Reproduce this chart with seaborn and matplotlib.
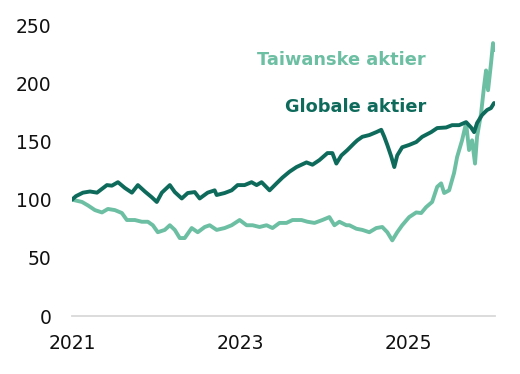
import matplotlib
matplotlib.use("Agg")
import matplotlib.pyplot as plt
import matplotlib.dates as mdates
import numpy as np
import pandas as pd
import seaborn as sns

DARK = "#0e6b5c"
LIGHT = "#6dbfa3"

# decimal years
glob_t = [2021.000, 2021.047, 2021.130, 2021.214, 2021.297, 2021.415, 2021.474, 2021.546,
          2021.629, 2021.712, 2021.783, 2021.866, 2021.949, 2022.008, 2022.068, 2022.163,
          2022.222, 2022.305, 2022.376, 2022.459, 2022.518, 2022.613, 2022.696, 2022.720,
          2022.815, 2022.898, 2022.969, 2023.052, 2023.135, 2023.195, 2023.254, 2023.349,
          2023.432, 2023.503, 2023.586, 2023.669, 2023.788, 2023.859, 2023.942, 2024.037,
          2024.096, 2024.143, 2024.203, 2024.274, 2024.357, 2024.393, 2024.452, 2024.535,
          2024.618, 2024.677, 2024.713, 2024.749, 2024.796, 2024.832, 2024.867, 2024.926,
          2025.009, 2025.093, 2025.164, 2025.270, 2025.342, 2025.448, 2025.520, 2025.603,
          2025.686, 2025.745, 2025.781, 2025.816, 2025.875, 2025.935, 2025.982, 2026.018]
glob_v = [100, 103, 106, 107, 106, 112.5, 112, 115,
          110, 106, 112.5, 107, 102, 98, 106, 112.5,
          106.5, 101, 105.7, 106.5, 101, 106, 108, 104,
          105.7, 108, 112.5, 112.5, 115, 112.5, 115, 108,
          114, 119, 124, 128, 132, 130, 134, 140,
          140, 131, 138, 142.6, 148.6, 151, 154, 155.5,
          158, 160, 154, 147, 137, 128, 138, 145,
          147, 149.5, 154, 158, 161.5, 162, 164, 164,
          166.6, 162, 158, 165.8, 172.7, 177, 178.7, 183]

taiwan_t = [2021.000, 2021.119, 2021.190, 2021.273, 2021.356, 2021.427, 2021.510, 2021.593,
            2021.652, 2021.747, 2021.830, 2021.902, 2021.961, 2022.020, 2022.103, 2022.163,
            2022.222, 2022.281, 2022.340, 2022.423, 2022.495, 2022.578, 2022.637, 2022.720,
            2022.815, 2022.898, 2022.993, 2023.076, 2023.147, 2023.230, 2023.313, 2023.384,
            2023.467, 2023.550, 2023.622, 2023.728, 2023.800, 2023.883, 2023.977, 2024.060,
            2024.120, 2024.179, 2024.262, 2024.298, 2024.381, 2024.452, 2024.535, 2024.618,
            2024.689, 2024.749, 2024.808, 2024.867, 2024.926, 2025.009, 2025.093, 2025.152,
            2025.211, 2025.282, 2025.342, 2025.389, 2025.425, 2025.484, 2025.543, 2025.579,
            2025.638, 2025.686, 2025.721, 2025.757, 2025.792, 2025.816, 2025.864, 2025.899,
            2025.923, 2025.947, 2025.982, 2026.006, 2026.030]
taiwan_v = [100, 98, 95, 91, 89, 92, 91, 88.5,
            82.5, 82.5, 81, 81, 78, 72, 74, 78,
            74, 67, 67, 75.6, 72, 76.5, 78, 74,
            75.6, 78, 82.5, 78, 78, 76.5, 78, 75.6,
            80, 80, 82.5, 82.5, 81, 80, 82.5, 85,
            78, 81, 78, 78, 75, 74, 72, 75.6,
            76.5, 72, 65, 72, 78, 85, 89, 88.5,
            93.6, 98, 111, 114, 105.7, 108, 123, 136.6,
            151, 165.8, 142.6, 151, 131, 154, 174, 197,
            211, 194, 217, 234.5, 228.5]

yticks = [0, 50, 100, 150, 200, 250]
xtick_years = [2021, 2023, 2025]


def to_dates(years):
    years = np.asarray(years)
    return pd.to_datetime("2021-01-01") + pd.to_timedelta((years - 2021) * 365.25, unit="D")


df = pd.concat([
    pd.DataFrame({"dato": to_dates(glob_t), "indeks": glob_v, "serie": "Globale aktier"}),
    pd.DataFrame({"dato": to_dates(taiwan_t), "indeks": taiwan_v, "serie": "Taiwanske aktier"}),
])

sns.set_theme(style="white")
plt.rcParams["font.family"] = ["DejaVu Sans"]

fig = plt.figure(figsize=(5.2, 3.74), dpi=100)
ax = fig.add_axes([0.1385, 0.155, 0.8135, 0.778])

sns.lineplot(data=df, x="dato", y="indeks", hue="serie",
             palette={"Globale aktier": DARK, "Taiwanske aktier": LIGHT},
             hue_order=["Taiwanske aktier", "Globale aktier"],
             linewidth=2.8, legend=False, ax=ax)

ax.set_xlim(df["dato"].min(), df["dato"].max())
ax.set_ylim(0, 250)
ax.set_yticks(yticks)
ax.set_xticks([pd.Timestamp(f"{y}-01-01") for y in xtick_years])
ax.xaxis.set_major_formatter(mdates.DateFormatter("%Y"))
ax.set_xlabel("")
ax.set_ylabel("")
ax.tick_params(axis="both", length=0, labelsize=13.5, colors="#111111")
ax.tick_params(axis="y", pad=15)
ax.tick_params(axis="x", pad=13)

for side in ["top", "right", "left"]:
    ax.spines[side].set_visible(False)
ax.spines["bottom"].set_color("#d9d9d9")
ax.spines["bottom"].set_linewidth(1.3)

lx = pd.Timestamp("2025-03-18")
ax.text(lx, 220, "Taiwanske aktier", color=LIGHT, fontsize=12.8, fontweight="bold",
        ha="right", va="center")
ax.text(lx, 179.5, "Globale aktier", color=DARK, fontsize=12.8, fontweight="bold",
        ha="right", va="center")

fig.savefig("out.png", dpi=100)
